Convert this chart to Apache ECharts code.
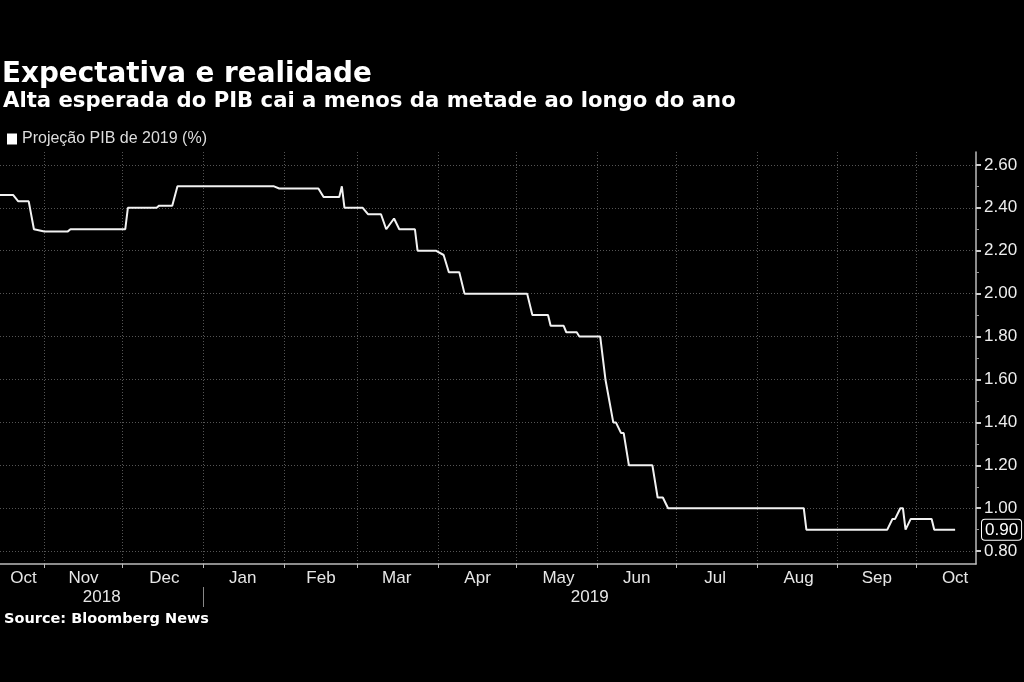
<!DOCTYPE html>
<html>
<head>
<meta charset="utf-8">
<script src="https://cdn.jsdelivr.net/npm/echarts@6/dist/echarts.min.js"></script>
<style>html,body{margin:0;padding:0;background:#000;}#c{width:1024px;height:682px;}</style>
</head>
<body>
<div id="c"></div>
<script>
// ---- data ----
const dates = ['2018-10-15','2018-10-20','2018-10-22','2018-10-26','2018-10-28','2018-11-01','2018-11-10','2018-11-11','2018-12-02','2018-12-03','2018-12-14','2018-12-15','2018-12-20','2018-12-22','2019-01-28','2019-01-30','2019-02-14','2019-02-16','2019-02-22','2019-02-23','2019-02-24','2019-03-03','2019-03-05','2019-03-10','2019-03-12','2019-03-15','2019-03-17','2019-03-23','2019-03-24','2019-03-31','2019-04-03','2019-04-05','2019-04-09','2019-04-11','2019-05-05','2019-05-07','2019-05-13','2019-05-14','2019-05-19','2019-05-20','2019-05-24','2019-05-25','2019-06-02','2019-06-04','2019-06-07','2019-06-08','2019-06-10','2019-06-11','2019-06-13','2019-06-22','2019-06-24','2019-06-26','2019-06-28','2019-08-19','2019-08-20','2019-09-20','2019-09-22','2019-09-23','2019-09-25','2019-09-26','2019-09-27','2019-09-29','2019-10-07','2019-10-08','2019-10-16'];
const values = [2.46,2.46,2.43,2.43,2.30,2.29,2.29,2.30,2.30,2.40,2.40,2.41,2.41,2.50,2.50,2.49,2.49,2.45,2.45,2.50,2.40,2.40,2.37,2.37,2.30,2.35,2.30,2.30,2.20,2.20,2.18,2.10,2.10,2.00,2.00,1.90,1.90,1.85,1.85,1.82,1.82,1.80,1.80,1.60,1.40,1.40,1.35,1.35,1.20,1.20,1.05,1.05,1.00,1.00,0.90,0.90,0.95,0.95,1.00,1.00,0.90,0.95,0.95,0.90,0.90];
const seriesName = 'Projeção PIB de 2019 (%)';
const axisStart = '2018-10-15';
const axisEnd = '2019-10-24';
const monthStarts = ['2018-11-01','2018-12-01','2019-01-01','2019-02-01','2019-03-01','2019-04-01','2019-05-01','2019-06-01','2019-07-01','2019-08-01','2019-09-01','2019-10-01'];
const monthLabelDates = ['2018-10-24','2018-11-16','2018-12-17','2019-01-16','2019-02-15','2019-03-16','2019-04-16','2019-05-17','2019-06-16','2019-07-16','2019-08-17','2019-09-16','2019-10-16'];
const monthNames = ['Oct','Nov','Dec','Jan','Feb','Mar','Apr','May','Jun','Jul','Aug','Sep','Oct'];
const yearLabelDates = ['2018-11-23','2019-05-29'];
const yearNames = ['2018','2019'];
const yearBreaks = ['2019-01-01'];
const yTicks = [0.8,1.0,1.2,1.4,1.6,1.8,2.0,2.2,2.4,2.6];
const yMinorTicks = [0.9,1.1,1.3,1.5,1.7,1.9,2.1,2.3,2.5];
const yMin = 0.74, yMax = 2.66;
const lastValue = 0.90;

// ---- helpers ----
function toTs(s){const p=s.split('-').map(Number);return new Date(p[0],p[1]-1,p[2]).getTime();}
const monthLabelTs = monthLabelDates.map(toTs);
const monthMap = {}; monthLabelTs.forEach((t,i)=>monthMap[t]=monthNames[i]);
const yearLabelTs = yearLabelDates.map(toTs);
const yearMap = {}; yearLabelTs.forEach((t,i)=>yearMap[t]=yearNames[i]);
const seriesData = dates.map((d,i)=>[toTs(d), values[i]]);
const xMin = toTs(axisStart), xMax = toTs(axisEnd);

const lab = 'Liberation Sans';
const head = 'DejaVu Sans';

const chart = echarts.init(document.getElementById('c'));
chart.setOption({
  backgroundColor: '#000',
  animation: false,
  title: [
    {text: 'Expectativa e realidade', left: 2, top: 61, padding: 0,
     textStyle: {color: '#fff', fontSize: 27.8, fontWeight: 'bold', fontFamily: head}},
    {text: 'Alta esperada do PIB cai a menos da metade ao longo do ano', left: 3, top: 91, padding: 0,
     textStyle: {color: '#fff', fontSize: 21.2, fontWeight: 'bold', fontFamily: head}},
    {text: 'Source: Bloomberg News', left: 4, top: 612, padding: 0,
     textStyle: {color: '#fff', fontSize: 14.5, fontWeight: 'bold', fontFamily: head}}
  ],
  legend: {
    data: [seriesName], left: 7, top: 131, padding: 0, icon: 'rect',
    itemWidth: 10, itemHeight: 11, itemGap: 5,
    textStyle: {color: '#ddd', fontSize: 16, fontFamily: lab}
  },
  grid: {left: 0, right: 48, top: 152, bottom: 118, containLabel: false},
  xAxis: [
    {type: 'value', min: xMin, max: xMax,
     axisLine: {show: true, lineStyle: {color: '#bbb', width: 1.5}},
     axisTick: {show: true, customValues: monthStarts.map(toTs), length: 4, lineStyle: {color: '#bbb'}},
     axisLabel: {show: false},
     splitLine: {show: true, lineStyle: {color: '#555', type: [1,2], width: 1}}},
    {type: 'value', min: xMin, max: xMax, position: 'bottom',
     axisLine: {show: false}, axisTick: {show: false}, splitLine: {show: false},
     axisLabel: {show: true, customValues: monthLabelTs, formatter: v => monthMap[v] || '',
                 color: '#e6e6e6', fontSize: 17, fontFamily: lab, margin: 6, hideOverlap: false}},
    {type: 'value', min: xMin, max: xMax, position: 'bottom', offset: 23,
     axisLine: {show: false}, splitLine: {show: false},
     axisTick: {show: true, customValues: yearBreaks.map(toTs), length: 20, lineStyle: {color: '#888'}},
     axisLabel: {show: true, customValues: yearLabelTs, formatter: v => yearMap[v] || '',
                 color: '#e6e6e6', fontSize: 17, fontFamily: lab, margin: 2, hideOverlap: false}}
  ],
  yAxis: [
    {type: 'value', position: 'right', min: yMin, max: yMax,
     axisLine: {show: true, lineStyle: {color: '#bbb', width: 1.5}},
     axisTick: {show: true, customValues: yTicks, length: 5, lineStyle: {color: '#ccc', width: 2}},
     axisLabel: {show: true, customValues: yTicks, formatter: v => v.toFixed(2),
                 color: '#eee', fontSize: 17, fontFamily: lab, margin: 8},
     splitLine: {show: true, lineStyle: {color: '#555', type: [1,2], width: 1}},
     axisPointer: {show: true, type: 'line', value: lastValue, status: 'show', triggerTooltip: false,
                   lineStyle: {opacity: 0},
                   label: {show: true, precision: 2, backgroundColor: '#000', borderColor: '#fff', borderWidth: 1,
                           color: '#fff', fontSize: 17, fontFamily: lab, padding: [2,3,1,3], margin: 6}}},
    {type: 'value', position: 'right', min: yMin, max: yMax,
     axisLine: {show: false}, splitLine: {show: false}, axisLabel: {show: false},
     axisTick: {show: true, customValues: yMinorTicks, length: 3, lineStyle: {color: '#999'}}}
  ],
  series: [{
    name: seriesName, type: 'line', xAxisIndex: 0, yAxisIndex: 0,
    data: seriesData, symbol: 'none', showSymbol: false,
    itemStyle: {color: '#fff'},
    lineStyle: {color: '#f2f2f2', width: 2}
  }]
});
</script>
</body>
</html>
